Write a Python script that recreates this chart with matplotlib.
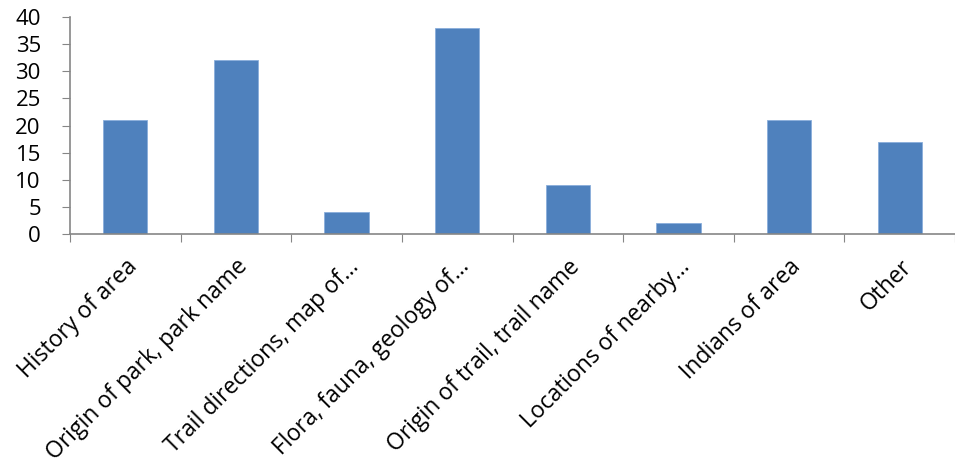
import numpy as np
from matplotlib import pyplot as plt

categories = ['History of area', 'Origin of park, park name', 'Trail directions, map of\u2026',
              'Flora, fauna, geology of\u2026', 'Origin of trail, trail name',
              'Locations of nearby\u2026', 'Indians of area', 'Other']
counts = [21, 32, 4, 38, 9, 2, 21, 17]
yticks = [0, 5, 10, 15, 20, 25, 30, 35, 40]

plt.rcParams['font.family'] = ['Open Sans', 'DejaVu Sans']

fig = plt.figure(figsize=(9.55, 4.66), dpi=100)
ax = fig.add_axes([70/955, 1-234/466, 885/955, 217/466])

x = np.arange(len(categories))
ax.bar(x, counts, width=0.4, color='#4F81BD', edgecolor='#8AAEDB', linewidth=0.6)

ax.set_xlim(-0.5, len(categories) - 0.5)
ax.set_ylim(0, 40)
ax.set_yticks(yticks)
ax.set_yticklabels([str(v) for v in yticks], fontsize=16)

ax.set_xticks(np.arange(len(categories) + 1) - 0.5)
ax.set_xticklabels([])
ax.set_xticks(x, minor=True)
ax.set_xticklabels(categories, minor=True, rotation=45, ha='right',
                   rotation_mode='anchor', fontsize=16.5)
ax.tick_params(axis='x', which='minor', length=0, pad=15)
ax.tick_params(axis='x', which='major', length=6, color='#868686', direction='out')
ax.tick_params(axis='y', length=6, color='#868686', direction='out', pad=15)

for s in ['top', 'right']:
    ax.spines[s].set_visible(False)
for s in ['left', 'bottom']:
    ax.spines[s].set_color('#868686')
    ax.spines[s].set_linewidth(1.2)

plt.savefig('out.png', dpi=100)
